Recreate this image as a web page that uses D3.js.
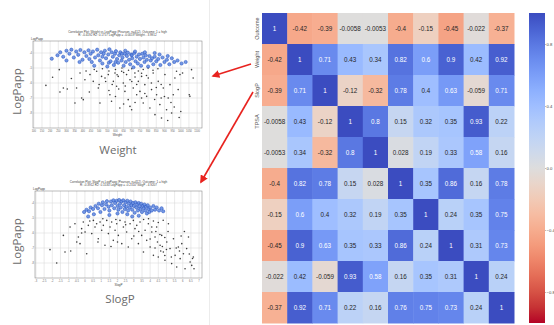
<!DOCTYPE html>
<html>
<head>
<meta charset="utf-8">
<script src="https://cdn.jsdelivr.net/npm/d3@7"></script>
<style>
  body { margin: 0; background: #fff; }
  svg { display: block; font-family: "Liberation Sans", Arial, sans-serif; }
</style>
</head>
<body>
<div class="chart"></div>
<script>
// ---- data ----
var rowTickLabels = ["Outcome", "Weight", "SlogP", "TPSA"];

var corr = [
  [1, -0.42, -0.39, -0.0058, -0.0053, -0.4, -0.15, -0.45, -0.022, -0.37],
  [-0.42, 1, 0.71, 0.43, 0.34, 0.82, 0.6, 0.9, 0.42, 0.92],
  [-0.39, 0.71, 1, -0.12, -0.32, 0.78, 0.4, 0.63, -0.059, 0.71],
  [-0.0058, 0.43, -0.12, 1, 0.8, 0.15, 0.32, 0.35, 0.93, 0.22],
  [-0.0053, 0.34, -0.32, 0.8, 1, 0.028, 0.19, 0.33, 0.58, 0.16],
  [-0.4, 0.82, 0.78, 0.15, 0.028, 1, 0.35, 0.86, 0.16, 0.78],
  [-0.15, 0.6, 0.4, 0.32, 0.19, 0.35, 1, 0.24, 0.35, 0.75],
  [-0.45, 0.9, 0.63, 0.35, 0.33, 0.86, 0.24, 1, 0.31, 0.73],
  [-0.022, 0.42, -0.059, 0.93, 0.58, 0.16, 0.35, 0.31, 1, 0.24],
  [-0.37, 0.92, 0.71, 0.22, 0.16, 0.76, 0.75, 0.73, 0.24, 1]
];

var colorbarTicks = [0.8, 0.4, 0.0, -0.4, -0.8];

// scatter 1: Weight vs LogPapp
var weightTicks = d3.range(100, 1101, 50);
var logPappTicks = [-4, -5, -6, -7, -8];

var weightHigh = [
  [210,-4.38],[245,-4.15],[262,-3.95],[280,-4.25],[300,-3.85],[300,-4.5],[318,-4.05],[330,-3.78],[345,-4.3],
  [360,-3.9],[372,-4.12],[380,-4.6],[385,-3.8],[398,-4.45],[410,-3.95],[422,-4.2],[435,-3.82],[440,-4.4],
  [448,-4.05],[455,-4.6],[462,-3.9],[470,-4.85],[475,-4.3],[488,-3.78],[495,-4.15],[505,-4.5],[512,-3.95],
  [520,-4.7],[520,-4.25],[528,-4.05],[535,-3.85],[542,-4.35],[550,-4.9],[556,-4.1],[560,-4.65],[563,-3.75],
  [570,-4.55],[577,-3.95],[584,-4.25],[590,-4.8],[597,-4.05],[600,-4.6],[603,-3.88],[610,-4.4],[617,-4.65],
  [623,-4.15],[630,-3.95],[637,-4.5],[640,-4.05],[643,-4.3],[650,-4.85],[656,-4.05],[660,-3.85],[663,-4.6],
  [670,-4.2],[676,-3.98],[683,-4.45],[690,-4.75],[696,-4.1],[700,-4.15],[703,-4.35],[710,-4.95],[716,-4.0],
  [720,-3.9],[723,-4.55],[730,-4.25],[737,-4.7],[744,-4.1],[750,-4.4],[757,-4.85],[764,-4.05],[771,-4.3],
  [778,-4.6],[780,-3.95],[785,-4.15],[792,-4.45],[800,-4.9],[808,-4.2],[816,-4.5],[824,-4.35],[832,-4.75],
  [840,-4.25],[840,-4.0],[850,-4.55],[862,-4.4],[870,-4.1],[875,-4.8],[888,-4.3],[900,-4.6],[915,-4.45],
  [920,-4.2],[930,-4.75],[945,-4.35],[960,-4.6],[980,-4.5],[1005,-4.7],[1030,-4.6]
];
var weightLow = [
  [174,-6.16],[215,-5.62],[256,-5.11],[260,-6.6],[281,-6.33],[305,-6.4],[330,-5.7],[352,-7.33],[362,-6.33],
  [383,-5.33],[393,-7.0],[403,-7.11],[413,-5.78],[420,-5.2],[440,-6.6],[444,-5.44],[464,-5.89],[470,-5.1],
  [485,-5.22],[495,-6.33],[500,-6.1],[505,-7.33],[515,-5.56],[520,-5.05],[536,-5.67],[540,-5.9],[556,-5.44],
  [560,-5.2],[560,-6.5],[566,-6.78],[576,-7.22],[580,-6.1],[587,-5.89],[597,-5.33],[600,-5.1],[600,-6.9],
  [607,-6.22],[610,-5.45],[617,-5.56],[620,-6.4],[627,-7.67],[638,-5.22],[640,-5.0],[648,-6.0],[650,-5.3],
  [650,-7.4],[658,-6.56],[660,-6.2],[668,-5.44],[678,-7.11],[680,-5.15],[689,-5.78],[689,-7.56],[699,-7.78],
  [700,-5.05],[700,-5.9],[709,-6.33],[719,-5.33],[720,-5.6],[720,-7.3],[730,-6.78],[730,-6.1],[740,-5.89],
  [740,-5.2],[750,-6.56],[760,-5.56],[760,-5.35],[760,-7.0],[770,-7.33],[770,-5.1],[780,-6.11],[780,-6.7],
  [790,-5.5],[791,-6.89],[800,-5.0],[801,-5.67],[811,-7.67],[820,-6.0],[821,-6.44],[830,-5.15],[831,-5.33],
  [840,-7.1],[842,-8.11],[850,-6.3],[852,-6.78],[860,-5.05],[862,-5.89],[872,-7.44],[880,-6.1],[880,-7.0],
  [882,-8.33],[893,-6.33],[900,-6.9],[903,-5.44],[913,-7.78],[920,-8.5],[923,-7.0],[934,-6.11],[940,-7.3],
  [944,-8.0],[954,-6.78],[960,-7.6],[964,-5.67],[974,-5.22],[984,-6.44],[990,-8.3],[995,-5.44],[1000,-7.9],
  [1011,-5.33],[1052,-6.78],[1056,-6.89],[1066,-5.11],[1076,-5.67]
];

// scatter 2: SlogP vs LogPapp
var slogpTicks = d3.range(-3, 7.01, 0.5);
var slogpHigh = [
  [-0.05,-4.6],[0.1,-4.45],[0.2,-4.9],[0.25,-4.55],[0.35,-4.3],[0.5,-4.4],[0.55,-4.75],[0.65,-4.2],[0.8,-4.35],
  [0.85,-4.05],[0.95,-4.6],[1.05,-4.15],[1.1,-3.95],[1.2,-4.4],[1.3,-4.1],[1.35,-3.88],[1.45,-4.25],[1.5,-4.5],
  [1.5,-4.8],[1.6,-3.9],[1.65,-4.15],[1.75,-3.82],[1.8,-4.35],[1.85,-4.0],[1.95,-3.85],[2.0,-4.2],[2.0,-4.7],
  [2.05,-4.45],[2.1,-3.8],[2.15,-4.05],[2.2,-4.3],[2.25,-3.9],[2.3,-4.6],[2.35,-3.82],[2.4,-4.15],[2.45,-4.4],
  [2.5,-3.95],[2.55,-4.25],[2.6,-3.85],[2.6,-4.75],[2.65,-4.5],[2.7,-4.05],[2.75,-4.3],[2.8,-3.9],[2.85,-4.15],
  [2.9,-4.45],[2.9,-4.9],[2.95,-4.0],[3.0,-4.2],[3.05,-4.65],[3.1,-3.95],[3.15,-4.3],[3.2,-4.1],[3.25,-4.5],
  [3.3,-4.0],[3.3,-4.85],[3.35,-4.25],[3.4,-4.4],[3.45,-4.05],[3.5,-4.6],[3.55,-4.2],[3.6,-4.35],[3.65,-4.1],
  [3.7,-4.5],[3.75,-4.25],[3.8,-4.7],[3.85,-4.15],[3.9,-4.4],[3.95,-4.6],[4.0,-4.3],[4.1,-4.5],[4.2,-4.2],
  [4.3,-4.45],[4.4,-4.3],[4.55,-4.5],[4.7,-4.35],[4.8,-4.55]
];
var slogpLow = [
  [-2.14,-7.11],[-1.73,-8.0],[-1.32,-6.16],[-1.22,-7.27],[-0.91,-5.6],[-0.87,-7.2],[-0.61,-5.38],[-0.5,-6.6],
  [-0.4,-6.27],[-0.3,-6.71],[-0.2,-5.71],[-0.2,-6.0],[-0.1,-5.27],[0.01,-5.93],[0.11,-7.38],[0.21,-5.49],
  [0.3,-5.2],[0.42,-6.04],[0.52,-5.16],[0.62,-5.6],[0.72,-5.38],[0.8,-6.6],[0.82,-6.38],[0.93,-5.27],[1.03,-5.82],
  [1.1,-5.05],[1.13,-5.49],[1.23,-6.82],[1.34,-5.16],[1.44,-6.04],[1.54,-5.6],[1.6,-6.9],[1.64,-5.27],[1.74,-6.49],
  [1.85,-5.82],[1.9,-5.1],[1.95,-5.38],[2.0,-6.6],[2.05,-6.16],[2.15,-5.16],[2.26,-6.71],[2.36,-5.6],[2.46,-5.27],
  [2.5,-5.45],[2.56,-5.93],[2.66,-6.93],[2.77,-5.38],[2.87,-6.38],[2.97,-5.16],[3.0,-6.2],[3.07,-5.71],[3.18,-5.49],
  [3.28,-6.71],[3.3,-5.9],[3.38,-5.27],[3.48,-6.16],[3.59,-7.27],[3.6,-5.1],[3.69,-5.82],[3.79,-6.49],[3.89,-5.38],
  [3.9,-5.05],[4.0,-6.93],[4.0,-6.4],[4.1,-5.93],[4.1,-5.6],[4.2,-7.49],[4.2,-5.2],[4.3,-6.27],[4.3,-7.0],
  [4.35,-5.9],[4.4,-5.6],[4.45,-6.6],[4.5,-7.6],[4.5,-5.3],[4.6,-6.1],[4.61,-6.82],[4.65,-7.2],[4.71,-6.16],
  [4.75,-6.9],[4.8,-5.15],[4.81,-7.27],[4.9,-6.3],[4.9,-7.5],[4.91,-7.82],[5.0,-7.1],[5.02,-6.6],[5.1,-5.9],
  [5.12,-5.38],[5.22,-7.04],[5.3,-7.6],[5.32,-8.04],[5.43,-6.38],[5.53,-7.49],[5.6,-7.0],[5.63,-8.27],
  [5.73,-6.93],[5.8,-7.2],[5.84,-7.71],[5.9,-6.2],[5.94,-6.71],[6.04,-7.38],[6.1,-5.9],[6.14,-8.38],
  [6.24,-7.04],[6.35,-6.27],[6.4,-7.4],[6.45,-7.93],[6.55,-8.16],[6.6,-7.7],[6.65,-7.6],[6.69,-8.38]
];

// ---- svg ----
var svgWidth = 554;
var svgHeight = 325;

var svg = d3.select(".chart")
  .append("svg")
  .attr("width", svgWidth)
  .attr("height", svgHeight);

// coolwarm palette (reversed so +1 is blue)
var coolwarm = ["#3b4cc0","#4d68d7","#6282ea","#779af7","#8db0fe","#a3c2ff","#b8d0f9","#cad8ef",
  "#dddddd","#ecd3c5","#f5c4ac","#f7b093","#f49a7b","#ec7f63","#de604d","#cb3e38","#b40426"];
var colorScale = d3.scaleLinear()
  .domain(d3.range(coolwarm.length).map(i => 1 - 2 * i / (coolwarm.length - 1)))
  .range(coolwarm)
  .interpolate(d3.interpolateRgb);

function luminance(c) {
  var rgb = d3.rgb(c);
  var lin = [rgb.r, rgb.g, rgb.b].map(function(v) {
    v = v / 255;
    return v <= 0.03928 ? v / 12.92 : Math.pow((v + 0.055) / 1.055, 2.4);
  });
  return 0.2126 * lin[0] + 0.7152 * lin[1] + 0.0722 * lin[2];
}

// ---- heatmap ----
var n = corr.length;
var xBand = d3.scaleBand().domain(d3.range(n)).range([262, 514]);
var yBand = d3.scaleBand().domain(d3.range(n)).range([13, 323]);

var cells = [];
corr.forEach(function(row, i) {
  row.forEach(function(v, j) { cells.push({ i: i, j: j, v: v }); });
});

var heat = svg.append("g");
heat.selectAll("rect")
  .data(cells)
  .enter()
  .append("rect")
  .attr("x", d => xBand(d.j))
  .attr("y", d => yBand(d.i))
  .attr("width", xBand.bandwidth() + 0.5)
  .attr("height", yBand.bandwidth() + 0.5)
  .attr("fill", d => colorScale(d.v));

heat.selectAll("text")
  .data(cells)
  .enter()
  .append("text")
  .attr("x", d => xBand(d.j) + xBand.bandwidth() / 2)
  .attr("y", d => yBand(d.i) + yBand.bandwidth() / 2)
  .attr("dy", "0.35em")
  .attr("text-anchor", "middle")
  .attr("font-size", "6.3px")
  .attr("fill", d => luminance(colorScale(d.v)) > 0.408 ? "#262626" : "#ffffff")
  .text(d => String(d.v));

// row labels (only these are shown)
heat.selectAll(".rowlab")
  .data(rowTickLabels)
  .enter()
  .append("text")
  .attr("class", "rowlab")
  .attr("transform", (d, i) => `translate(258.5, ${yBand(i) + yBand.bandwidth() / 2}) rotate(-90)`)
  .attr("text-anchor", "middle")
  .attr("font-size", "5.5px")
  .attr("fill", "#555")
  .text(d => d);

// ---- colorbar ----
var cbScale = d3.scaleLinear().domain([-1, 1]).range([323, 13]);
var defs = svg.append("defs");
var grad = defs.append("linearGradient")
  .attr("id", "cb")
  .attr("x1", 0).attr("y1", 1).attr("x2", 0).attr("y2", 0);
grad.selectAll("stop")
  .data(d3.range(0, 1.0001, 0.05))
  .enter()
  .append("stop")
  .attr("offset", d => d)
  .attr("stop-color", d => colorScale(-1 + 2 * d));

svg.append("rect")
  .attr("x", 529).attr("y", 13)
  .attr("width", 16).attr("height", 310)
  .attr("fill", "url(#cb)");

var cbAxis = svg.append("g")
  .attr("transform", "translate(545,0)")
  .call(d3.axisRight(cbScale).tickValues(colorbarTicks).tickSize(1).tickFormat(d3.format(".1f")));
cbAxis.select(".domain").remove();
cbAxis.selectAll("line").attr("stroke", "#777").attr("stroke-width", 0.5);
cbAxis.selectAll("text").attr("font-size", "4.2px").attr("fill", "#444").attr("x", 1.6);

// ---- scatter plots ----
function scatter(opts) {
  var g = svg.append("g");
  var x = d3.scaleLinear().domain(opts.xDomain).range([opts.left, opts.right]);
  var y = d3.scaleLinear().domain([-9, -3.2]).range([opts.bottom, opts.top]);

  // grid
  g.selectAll(".vg").data(opts.xTicks).enter().append("line")
    .attr("x1", d => x(d)).attr("x2", d => x(d))
    .attr("y1", opts.top).attr("y2", opts.bottom)
    .attr("stroke", "#d4d4d4").attr("stroke-width", 0.5);
  g.selectAll(".hg").data(logPappTicks).enter().append("line")
    .attr("x1", opts.left).attr("x2", opts.right)
    .attr("y1", d => y(d)).attr("y2", d => y(d))
    .attr("stroke", "#d4d4d4").attr("stroke-width", 0.5);

  // frame
  g.append("rect")
    .attr("x", opts.left).attr("y", opts.top)
    .attr("width", opts.right - opts.left).attr("height", opts.bottom - opts.top)
    .attr("fill", "none").attr("stroke", "#777").attr("stroke-width", 0.5);

  // tick labels
  g.selectAll(".xt").data(opts.xTicks).enter().append("text")
    .attr("x", d => x(d)).attr("y", opts.bottom + 3.5)
    .attr("text-anchor", "middle").attr("font-size", "2.6px").attr("fill", "#666")
    .text(d => d);
  g.selectAll(".yt").data(logPappTicks).enter().append("text")
    .attr("x", opts.left - 1).attr("y", d => y(d) + 0.8)
    .attr("text-anchor", "end").attr("font-size", "2.6px").attr("fill", "#666")
    .text(d => d);

  // small titles
  g.append("text").attr("x", (opts.left + opts.right) / 2).attr("y", opts.top - 8.5)
    .attr("text-anchor", "middle").attr("font-size", "3px").attr("fill", "#444")
    .text(opts.title1);
  g.append("text").attr("x", (opts.left + opts.right) / 2).attr("y", opts.top - 5)
    .attr("text-anchor", "middle").attr("font-size", "3px").attr("fill", "#444")
    .text(opts.title2);
  g.append("text").attr("x", opts.left - 2).attr("y", opts.top - 0.8)
    .attr("font-size", "3px").attr("fill", "#444").text("LogPapp");
  g.append("text").attr("x", (opts.left + opts.right) / 2).attr("y", opts.bottom + 7.5)
    .attr("text-anchor", "middle").attr("font-size", "3px").attr("fill", "#444")
    .text(opts.xName);

  // points
  g.selectAll(".lo").data(opts.low).enter().append("circle")
    .attr("cx", d => x(d[0])).attr("cy", d => y(d[1]))
    .attr("r", 0.8).attr("fill", "#3a3a3a");
  g.selectAll(".hi").data(opts.high).enter().append("circle")
    .attr("cx", d => x(d[0])).attr("cy", d => y(d[1]))
    .attr("r", 1.6).attr("fill", "#5d87e0").attr("fill-opacity", 0.85)
    .attr("stroke", "#2f5bc4").attr("stroke-width", 0.6);

  // big labels
  svg.append("text")
    .attr("transform", `translate(21, ${(opts.top + opts.bottom) / 2 + 7}) rotate(-90)`)
    .attr("text-anchor", "middle")
    .attr("font-family", "'Open Sans', sans-serif")
    .attr("font-size", "11.5px").attr("fill", "#6b6b6b")
    .text("LogPapp");
  svg.append("text")
    .attr("x", opts.labelX).attr("y", opts.labelY)
    .attr("text-anchor", "middle")
    .attr("font-family", "'Open Sans', sans-serif")
    .attr("font-size", "11.5px").attr("fill", "#6b6b6b")
    .text(opts.xName);
}

// faint edge of the left panel
svg.append("line")
  .attr("x1", 209.5).attr("x2", 209.5).attr("y1", 0).attr("y2", 325)
  .attr("stroke", "#ececec").attr("stroke-width", 1);

scatter({
  left: 33, right: 202, top: 41, bottom: 128,
  xDomain: [95, 1130], xTicks: weightTicks,
  high: weightHigh, low: weightLow, xName: "Weight",
  title1: "Correlation Plot: Weight vs LogPapp (Pearson, n=412), Outcome: 1 = high",
  title2: "R: -0.4192 R2: 0.1757   LogPapp = -0.0019*Weight - 3.9912",
  labelX: 118, labelY: 154
});

scatter({
  left: 35, right: 202, top: 191, bottom: 278,
  xDomain: [-3.06, 7.18], xTicks: slogpTicks,
  high: slogpHigh, low: slogpLow, xName: "SlogP",
  title1: "Correlation Plot: SlogP vs LogPapp (Pearson, n=412), Outcome: 1 = high",
  title2: "R: -0.3912 R2: 0.1530   LogPapp = -0.2310*SlogP - 4.9207",
  labelX: 120, labelY: 303
});

// ---- red arrows ----
defs.append("marker")
  .attr("id", "arrow")
  .attr("viewBox", "0 0 10 10")
  .attr("refX", 8).attr("refY", 5)
  .attr("markerWidth", 5).attr("markerHeight", 5)
  .attr("orient", "auto")
  .append("path")
  .attr("d", "M0,0 L10,5 L0,10 Z")
  .attr("fill", "#e8231f");

var arrows = [
  { from: [251, 64], to: [213, 76] },
  { from: [253, 92], to: [201, 182] }
];
svg.selectAll(".arrow")
  .data(arrows)
  .enter()
  .append("line")
  .attr("x1", d => d.from[0]).attr("y1", d => d.from[1])
  .attr("x2", d => d.to[0]).attr("y2", d => d.to[1])
  .attr("stroke", "#e8231f")
  .attr("stroke-width", 1.6)
  .attr("marker-end", "url(#arrow)");
</script>
</body>
</html>
